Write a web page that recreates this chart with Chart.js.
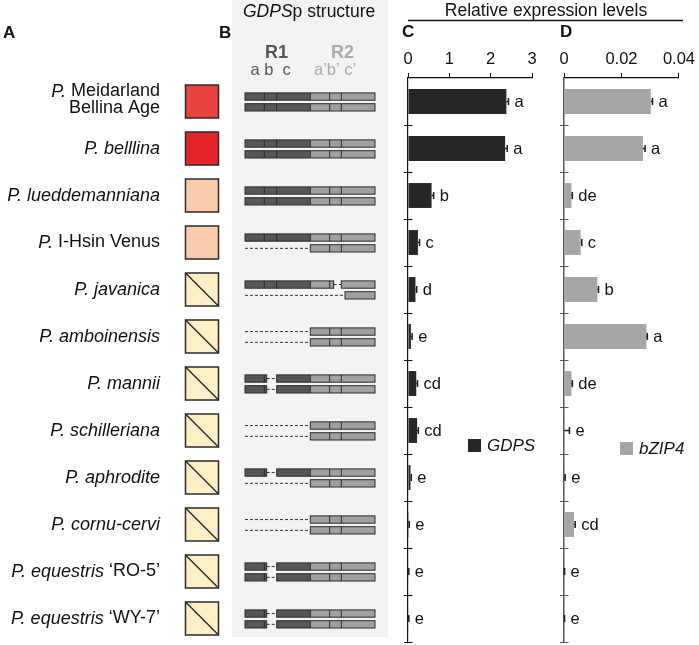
<!DOCTYPE html>
<html>
<head>
<meta charset="utf-8">
<script src="https://cdn.jsdelivr.net/npm/chart.js"></script>
<style>
  body { margin: 0; background: #fff; }
  #wrap { position: relative; width: 699px; height: 645px; }
  canvas { position: absolute; left: 0; top: 0; }
</style>
</head>
<body>
<div id="wrap">
  <canvas id="chartC" width="699" height="645"></canvas>
  <canvas id="chartD" width="699" height="645"></canvas>
</div>
<script>
// species names: italic part + roman part ("|" = line break)
const speciesItalic = ['P.', 'P. belllina', 'P. lueddemanniana', 'P.', 'P. javanica', 'P. amboinensis',
  'P. mannii', 'P. schilleriana', 'P. aphrodite', 'P. cornu-cervi', 'P. equestris', 'P. equestris'];
const speciesRoman = [' Meidarland|Bellina Age', '', '', ' I-Hsin Venus', '', '', '', '', '', '', ' \u2018RO-5\u2019', ' \u2018WY-7\u2019'];

// panel A flower colour squares
const squareColors = ['#e8413f', '#e3252b', '#f9ccae', '#f9ccae', '#fdf0c6', '#fdf0c6',
  '#fdf0c6', '#fdf0c6', '#fdf0c6', '#fdf0c6', '#fdf0c6', '#fdf0c6'];
const squareCrossed = [false, false, false, false, true, true, true, true, true, true, true, true];

// panel B promoter structure (two alleles per species)
const structTop = ['full', 'full', 'full', 'full', 'trunc', 'noR1', 'gapA', 'noR1', 'gapA', 'noR1', 'gapA', 'gapA'];
const structBottom = ['full', 'full', 'full', 'noR1', 'cPart', 'noR1', 'gapA', 'noR1', 'noR1', 'noR1', 'gapA', 'gapA'];

// panel C: GDPS
const gdps = [2.38, 2.35, 0.57, 0.24, 0.18, 0.07, 0.20, 0.22, 0.06, 0.02, 0.01, 0.01];
const gdpsErr = [0.05, 0.05, 0.05, 0.04, 0.03, 0.03, 0.03, 0.03, 0.02, 0.01, 0.01, 0.01];
const gdpsLetters = ['a', 'a', 'b', 'c', 'd', 'e', 'cd', 'cd', 'e', 'e', 'e', 'e'];
const gdpsTicks = [0, 1, 2, 3];

// panel D: bZIP4
const bzip = [0.0302, 0.0275, 0.0026, 0.0058, 0.0116, 0.0287, 0.0026, 0.0001, 0.0002, 0.0035, 0.0001, 0.0001];
const bzipErr = [0.0006, 0.0007, 0.0003, 0.0004, 0.0004, 0.0003, 0.0003, 0.0018, 0.0002, 0.0004, 0.0001, 0.0001];
const bzipLetters = ['a', 'a', 'de', 'c', 'b', 'a', 'de', 'e', 'e', 'cd', 'e', 'e'];
const bzipTicks = [0, 0.02, 0.04];

const FONT = '"Liberation Sans", Arial, Helvetica, sans-serif';
Chart.defaults.font.family = FONT;
Chart.defaults.color = '#111';

const labels = speciesItalic.map((s, i) => (s + speciesRoman[i]).replace('|', ' '));

// promoter segment boundaries a | b | c | a' | b' | c'
const X = { a: 245, b: 264.3, c: 276.7, a2: 310.3, b2: 329.7, c2: 341.3, end: 375 };

function block(ctx, x0, x1, y, h, cuts) {
  const mid = X.a2;
  if (x0 < mid) { ctx.fillStyle = '#575757'; ctx.fillRect(x0, y, Math.min(x1, mid) - x0, h); }
  if (x1 > mid) { ctx.fillStyle = '#a0a0a0'; ctx.fillRect(Math.max(x0, mid), y, x1 - Math.max(x0, mid), h); }
  ctx.strokeStyle = '#2a2a2a';
  ctx.lineWidth = 1;
  ctx.strokeRect(x0, y, x1 - x0, h);
  cuts.forEach(cx => {
    ctx.beginPath(); ctx.moveTo(cx, y); ctx.lineTo(cx, y + h); ctx.stroke();
  });
}

function dash(ctx, x0, x1, y) {
  ctx.save();
  ctx.strokeStyle = '#333';
  ctx.lineWidth = 1;
  ctx.setLineDash([3, 2]);
  ctx.beginPath(); ctx.moveTo(x0, y); ctx.lineTo(x1, y); ctx.stroke();
  ctx.restore();
}

function strip(ctx, kind, y) {
  const h = 7.3, cy = y + h / 2;
  if (kind === 'full') {
    block(ctx, X.a, X.end, y, h, [X.b, X.c, X.a2, X.b2, X.c2]);
  } else if (kind === 'noR1') {
    dash(ctx, X.a, X.a2, cy);
    block(ctx, X.a2, X.end, y, h, [X.b2, X.c2]);
  } else if (kind === 'gapA') {
    block(ctx, X.a, 266.7, y, h, [X.b]);
    dash(ctx, 266.7, X.c, cy);
    block(ctx, X.c, X.end, y, h, [X.a2, X.b2, X.c2]);
  } else if (kind === 'trunc') {
    block(ctx, X.a, 333.7, y, h, [X.b, X.c, X.a2, X.b2]);
    dash(ctx, 333.7, X.c2, cy);
    block(ctx, X.c2, X.end, y, h, []);
  } else if (kind === 'cPart') {
    dash(ctx, X.a, 345, cy);
    block(ctx, 345, X.end, y, h, []);
  }
}

function mixedText(ctx, parts, xRight, y, size) {
  // parts: [[text, italic]], drawn right-aligned at xRight
  let w = 0;
  parts.forEach(p => { ctx.font = (p[1] ? 'italic ' : '') + size + 'px ' + FONT; p.w = ctx.measureText(p[0]).width; w += p.w; });
  let x = xRight - w;
  ctx.textAlign = 'left';
  parts.forEach(p => { ctx.font = (p[1] ? 'italic ' : '') + size + 'px ' + FONT; ctx.fillText(p[0], x, y); x += p.w; });
}

// panels A and B, header, drawn on the GDPS chart canvas
const panelsPlugin = {
  id: 'panels',
  beforeDraw(chart) {
    const ctx = chart.ctx;
    const ys = chart.scales.y;
    ctx.save();
    ctx.fillStyle = '#f3f3f3';
    ctx.fillRect(232, 0, 156, 637);

    ctx.fillStyle = '#111';
    ctx.textBaseline = 'middle';
    ctx.font = 'bold 17px ' + FONT;
    ctx.textAlign = 'left';
    ctx.fillText('A', 3, 33);
    ctx.fillText('B', 219, 33);
    ctx.fillText('C', 402, 32);
    ctx.fillText('D', 560, 32);

    // header
    ctx.font = '17.5px ' + FONT;
    ctx.textAlign = 'center';
    ctx.fillText('Relative expression levels', 546, 11);
    ctx.lineWidth = 1.5;
    ctx.strokeStyle = '#111';
    ctx.beginPath(); ctx.moveTo(408, 20.5); ctx.lineTo(683, 20.5); ctx.stroke();

    // GDPSp structure title
    ctx.font = 'italic 17.5px ' + FONT;
    ctx.textAlign = 'left';
    const w1 = ctx.measureText('GDPS').width;
    ctx.fillText('GDPS', 243, 12.5);
    ctx.font = '17.5px ' + FONT;
    ctx.fillText('p structure', 243 + w1, 12.5);

    ctx.textAlign = 'center';
    ctx.font = 'bold 18px ' + FONT;
    ctx.fillStyle = '#555';
    ctx.fillText('R1', 276.5, 53);
    ctx.fillStyle = '#aaa';
    ctx.fillText('R2', 342.5, 53);
    ctx.font = '16.5px ' + FONT;
    ctx.textAlign = 'left';
    ctx.fillStyle = '#555';
    ctx.fillText('a b  c', 250.5, 70);
    ctx.fillStyle = '#aaa';
    ctx.fillText('a\u2019b\u2019 c\u2019', 314, 70);

    labels.forEach((_, i) => {
      const cy = ys.getPixelForValue(i);
      // species name
      ctx.fillStyle = '#111';
      ctx.textBaseline = 'middle';
      const rom = speciesRoman[i];
      if (rom.includes('|')) {
        const [l1, l2] = rom.split('|');
        mixedText(ctx, [[speciesItalic[i], true], [l1, false]], 160, cy - 10, 18);
        mixedText(ctx, [[l2, false]], 160, cy + 6.5, 18);
      } else {
        mixedText(ctx, [[speciesItalic[i], true], [rom, false]], 160, cy, 18);
      }
      // colour square
      const sx = 185.5, sy = cy - 16.5, s = 33;
      ctx.fillStyle = squareColors[i];
      ctx.fillRect(sx, sy, s, s);
      ctx.strokeStyle = '#2a2a2a';
      ctx.lineWidth = 1.5;
      ctx.strokeRect(sx, sy, s, s);
      if (squareCrossed[i]) {
        ctx.beginPath(); ctx.moveTo(sx, sy); ctx.lineTo(sx + s, sy + s); ctx.stroke();
      }
      // promoter structure
      strip(ctx, structTop[i], cy - 8.6);
      strip(ctx, structBottom[i], cy + 2.2);
    });
    ctx.restore();
  }
};

// error bars, significance letters, crossing ticks, legend
const marksPlugin = {
  id: 'marks',
  afterDraw(chart, args, opts) {
    const ctx = chart.ctx;
    const xs = chart.scales.x, ys = chart.scales.y;
    const vals = chart.data.datasets[0].data;
    ctx.save();
    // crossing y ticks at category boundaries
    ctx.strokeStyle = opts.axisColor;
    ctx.lineWidth = 1;
    const n = vals.length;
    for (let i = 1; i <= n; i++) {
      const y = Math.round(ys.top + i * (ys.bottom - ys.top) / n) + 0.5;
      ctx.beginPath(); ctx.moveTo(xs.left - 4, y); ctx.lineTo(xs.left + 4.5, y); ctx.stroke();
    }
    // error bars + letters
    ctx.strokeStyle = '#1a1a1a';
    ctx.lineWidth = 1.5;
    ctx.fillStyle = '#111';
    ctx.font = '16.5px ' + FONT;
    ctx.textAlign = 'left';
    ctx.textBaseline = 'middle';
    vals.forEach((v, i) => {
      const cy = ys.getPixelForValue(i);
      const x0 = xs.getPixelForValue(v);
      const x1 = xs.getPixelForValue(v + opts.err[i]);
      ctx.beginPath(); ctx.moveTo(x0, cy); ctx.lineTo(x1, cy); ctx.stroke();
      ctx.beginPath(); ctx.moveTo(x1, cy - 3.5); ctx.lineTo(x1, cy + 3.5); ctx.stroke();
      ctx.fillText(opts.letters[i], Math.max(x0, x1) + 6, cy + 1);
    });
    // legend
    const L = opts.legend;
    ctx.fillStyle = chart.data.datasets[0].backgroundColor;
    ctx.fillRect(L.x, L.y, 13, 13);
    ctx.fillStyle = '#111';
    ctx.font = 'italic 17px ' + FONT;
    ctx.fillText(chart.data.datasets[0].label, L.x + 19, L.y + 7);
    ctx.restore();
  }
};

function makeChart(id, values, opts) {
  return new Chart(document.getElementById(id), {
    type: 'bar',
    data: {
      labels: labels,
      datasets: [{
        label: opts.label,
        data: values,
        backgroundColor: opts.color,
        borderWidth: 0,
        categoryPercentage: 1,
        barPercentage: 0.53
      }]
    },
    options: {
      indexAxis: 'y',
      responsive: false,
      animation: false,
      events: [],
      layout: { padding: { left: opts.left, right: 699 - opts.right, top: 48, bottom: 3 } },
      plugins: {
        legend: { display: false },
        tooltip: { enabled: false },
        marks: { err: opts.err, letters: opts.letters, legend: opts.legendPos, axisColor: opts.axisColor }
      },
      scales: {
        x: {
          position: 'top',
          min: 0,
          max: opts.max,
          afterBuildTicks: s => { s.ticks = opts.ticks.map(v => ({ value: v })); },
          ticks: {
            font: { size: 16.5 },
            color: '#111',
            padding: 4,
            maxRotation: 0,
            callback: v => String(v)
          },
          grid: { drawOnChartArea: false, tickLength: 5, color: '#111', lineWidth: 1 },
          border: { color: '#111', width: 1.2 },
          afterFit: s => { s.height = 30; }
        },
        y: {
          ticks: { display: false },
          grid: { display: false },
          border: { color: opts.axisColor, width: opts.axisWidth },
          afterFit: s => { s.width = 0; }
        }
      }
    },
    plugins: opts.extra.concat([marksPlugin])
  });
}

makeChart('chartC', gdps, {
  label: 'GDPS', color: '#262626', left: 408, right: 532, max: 3, ticks: gdpsTicks,
  err: gdpsErr, letters: gdpsLetters, legendPos: { x: 468, y: 439 },
  axisColor: '#111', axisWidth: 1.2, extra: [panelsPlugin]
});

makeChart('chartD', bzip, {
  label: 'bZIP4', color: '#a6a6a6', left: 564, right: 682, max: 0.04, ticks: bzipTicks,
  err: bzipErr, letters: bzipLetters, legendPos: { x: 620, y: 442 },
  axisColor: '#555', axisWidth: 1.5, extra: []
});
</script>
</body>
</html>
